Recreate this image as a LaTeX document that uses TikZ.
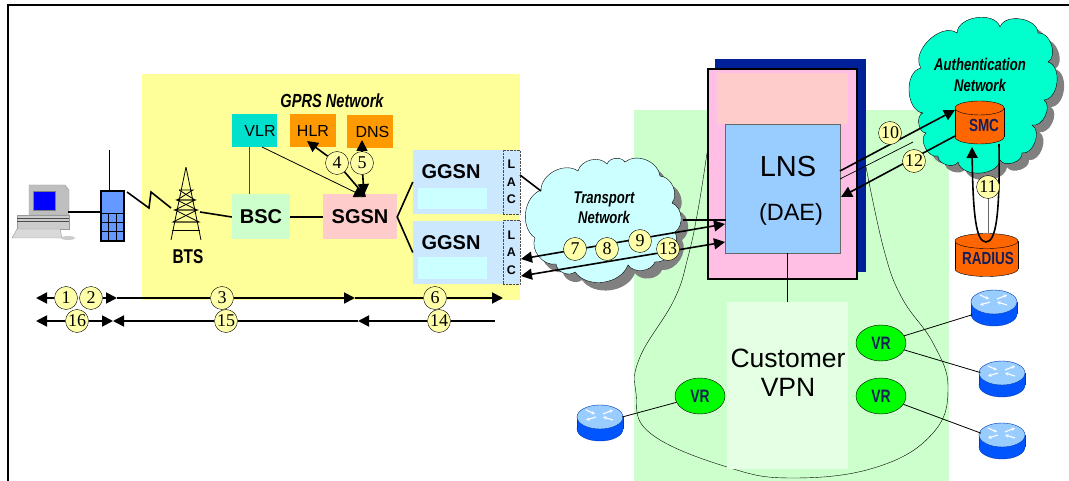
\documentclass[tikz,border=0pt]{standalone}
\usepackage{fontspec}
\usepackage{xcolor}
\usetikzlibrary{shapes.geometric}
\usetikzlibrary{arrows.meta}
\setmainfont{Liberation Sans}
\newfontfamily\numfont{Liberation Serif}
\newfontfamily\narrowfont[FakeStretch=0.77]{Liberation Sans}
\definecolor{gprsyellow}{RGB}{255,255,153}
\definecolor{vpngreen}{RGB}{204,255,204}
\definecolor{vpnlight}{RGB}{229,255,229}
\definecolor{ggsnblue}{RGB}{204,232,255}
\definecolor{skycyan}{RGB}{204,255,255}
\definecolor{vlrteal}{RGB}{0,224,204}
\definecolor{hlrorange}{RGB}{255,153,0}
\definecolor{sgsnpink}{RGB}{255,204,204}
\definecolor{lnsblue}{RGB}{153,204,255}
\definecolor{lnspink}{RGB}{255,190,228}
\definecolor{navyback}{RGB}{0,32,153}
\definecolor{authgreen}{RGB}{0,255,204}
\definecolor{dbred}{RGB}{255,102,0}
\definecolor{labnavy}{RGB}{20,30,90}
\definecolor{phoneblue}{RGB}{102,153,255}
\definecolor{routerbody}{RGB}{0,85,255}
\definecolor{circyellow}{RGB}{255,255,170}
\newcommand{\drum}[9]{
  \draw[#8,fill=#9] (#1,#4) ellipse (#3 and #5);
  \fill[#9] (#1-#3,#2) rectangle (#1+#3,#4);
  \draw[#8] (#1-#3,#2) -- (#1-#3,#4);
  \draw[#8] (#1+#3,#2) -- (#1+#3,#4);
  \draw[#8,fill=#7] (#1,#2) ellipse (#3 and #5);
}
\newcommand{\router}[2]{
  \drum{#1}{#2-6}{23}{#2+6}{12}{}{lnsblue}{routerbody!70!black}{routerbody}
  \draw[rarrow] (#1-14,#2-13) -- (#1-5,#2-9);
  \draw[rarrow] (#1+3,#2-9) -- (#1+13,#2-13);
  \draw[rarrow] (#1-4,#2-6) -- (#1-14,#2-3);
  \draw[rarrow] (#1+13,#2-3) -- (#1+3,#2-6);
}
\newcommand{\transportcloud}{
  (541,190) to (578,171) to (607,164) to (625,162) to (660,176) to (672,203)
  to (675,232) to (655,262) to (628,265) to (575,272) to (556,264) to (535,238)
  to (541,190) -- cycle
}
\newcommand{\authcloud}{
  (921,68) to (957,33) to (1000,27) to (1038,33) to (1048,62)
  to (1044,100) to (1032,125) to (1022,153) to (1000,160) to (958,162) to (938,156)
  to (926,133) to (923,113) to (921,68) -- cycle
}
\begin{document}
\begin{tikzpicture}[
 x=1pt, y=-1pt,
 >={Triangle[length=11pt,width=11pt]},
 box/.style = {
    rectangle,
    inner sep=0pt,
    font=\fontsize{16}{16}\selectfont},
 bigbox/.style = {
    box,
    font=\fontsize{20}{20}\selectfont\bfseries},
 lac/.style = {
    rectangle,
    draw=black!70,
    densely dotted,
    fill=ggsnblue,
    minimum width=17pt,
    minimum height=64pt,
    inner sep=0pt,
    align=center,
    font=\fontsize{12.5}{17.5}\selectfont\bfseries},
 num/.style = {
    circle,
    draw=black,
    fill=circyellow,
    minimum size=23pt,
    inner sep=0pt,
    font=\fontsize{18}{18}\numfont},
 netlabel/.style = {
    align=center,
    font=\fontsize{17}{20.5}\narrowfont\bfseries\itshape},
 vr/.style = {
    ellipse,
    draw=black,
    fill=green,
    minimum width=50pt,
    minimum height=36pt,
    inner sep=0pt,
    text=labnavy,
    font=\fontsize{18}{18}\narrowfont\bfseries},
 dblabel/.style = {
    inner sep=0pt,
    text=labnavy,
    font=\fontsize{17.5}{17.5}\narrowfont\bfseries},
 routernode/.style = {
    ellipse,
    minimum width=46pt,
    minimum height=36pt,
    inner sep=0pt},
 puff/.style = {every to/.style={bend left=62}},
 bigpuff/.style = {every to/.style={bend left=80}},
 thickline/.style = {line width=1.6pt},
 rowline/.style = {line width=1.8pt},
 rarrow/.style = {white,line width=1.1pt,-{Stealth[length=3.5pt,width=3.5pt]}}
  ]
\useasboundingbox (0,0) rectangle (1069,481);
\draw[line width=2pt] (8,481) -- (8,5) -- (1069,5);

\node(gprs)[box,fill=gprsyellow,minimum width=378pt,minimum height=226pt] at (331,187){};
\node(vpn)[box,fill=vpngreen,minimum width=315pt,minimum height=371pt] at (791.5,295.5){};
\draw[thin] plot[smooth,tension=0.7] coordinates {(707,153) (698,210) (688,257) (674,300) (640,357) (636,393) (650,433) (727,467) (793,478) (877,467) (933,433) (948,387) (933,343) (902,298) (884,250) (866,167)};

\node(back)[box,fill=navyback,minimum width=151pt,minimum height=213pt] at (790.5,165.5){};
\node(frame)[box,draw=black,line width=1.6pt,fill=lnspink,minimum width=149pt,minimum height=210pt] at (782.5,174){};
\node(upper)[box,fill=sgsnpink,minimum width=131pt,minimum height=51pt] at (782.5,98.5){};
\node(lns)[box,draw=black!60,fill=lnsblue,minimum width=115pt,minimum height=129pt] at (782.5,188.5){};
\node(lnstext)[font=\fontsize{29}{29}\selectfont] at (788,167){LNS};
\node(daetext)[font=\fontsize{23.5}{23.5}\selectfont] at (791,214){(DAE)};
\draw[black!60,densely dotted] (lns.west |- 0,183) -- (lns.west |- 0,245);

\node(cvpn)[box,fill=vpnlight,minimum width=121pt,minimum height=167pt] at (787.5,385.5){};
\node(cvpntext)[align=center,font=\fontsize{26.5}{29}\selectfont] at (788,373){Customer\\VPN};
\draw[thickline] (lns.south -| cvpn.north) -- (cvpn.north);

\node(vlr)[box,fill=vlrteal,minimum width=45pt,minimum height=33pt] at (254.5,130.5){\hspace*{11pt}VLR};
\node(hlr)[box,fill=hlrorange,minimum width=46pt,minimum height=33pt] at (313,130.5){HLR};
\node(dns)[box,fill=hlrorange,minimum width=46pt,minimum height=33pt] at (370,131.5){\hspace*{5pt}DNS};
\node(bsc)[bigbox,fill=vpngreen,minimum width=58pt,minimum height=45pt] at (261,217){BSC};
\node(sgsn)[bigbox,fill=sgsnpink,minimum width=74pt,minimum height=45pt] at (360,217){SGSN};
\node(ggsna)[bigbox,fill=ggsnblue,minimum width=90pt,minimum height=64pt] at (458,182){};
\node(ggsnb)[bigbox,fill=ggsnblue,minimum width=90pt,minimum height=63pt] at (458,252.5){};
\node(corea)[box,fill=skycyan,minimum width=69pt,minimum height=21pt] at (452.5,198.5){};
\node(coreb)[box,fill=skycyan,minimum width=69pt,minimum height=22pt] at (452.5,268){};
\node(ggsnatext)[font=\fontsize{20}{20}\selectfont\bfseries] at (451,172){GGSN};
\node(ggsnbtext)[font=\fontsize{20}{20}\selectfont\bfseries] at (451,243){GGSN};
\node(laca)[lac] at (511.5,182){L\\A\\C};
\node(lacb)[lac] at (511.5,252.5){L\\A\\C};
\node(gprstext)[netlabel,font=\fontsize{19}{19}\narrowfont\bfseries\itshape] at (332,101){GPRS Network};

\draw[thickline] (bsc) -- (sgsn);
\draw[line width=1pt,black!60!olive] (vlr.south -| 249,0) -- (bsc.north -| 249,0);
\draw[thickline] (ggsna.west) -- (sgsn.east) -- (ggsnb.west);

\node(phone)[rectangle,draw=black,line width=1.1pt,fill=phoneblue,minimum width=23pt,minimum height=50pt,inner sep=0pt] at (112.5,216){};
\draw (phone.north -| 109,0) -- (109,150);
\draw (phone.west |- 0,213) -- (phone.east |- 0,213);
\draw (phone.west |- 0,222) -- (phone.east |- 0,222);
\draw (phone.west |- 0,231) -- (phone.east |- 0,231);
\draw (108.5,213) -- (108.5,241);
\draw (116.5,213) -- (116.5,241);

\fill[black!25,draw=black!40] (29,185) -- (65,185) -- (69,190) -- (69,215) -- (29,215) -- cycle;
\fill[blue] (33,191) rectangle (55,210);
\draw[black!50] (33,191) rectangle (55,210);
\fill[black!20,draw=black!40] (17,215) rectangle (69,229);
\draw[black!70] (17,218) -- (69,218);
\draw[black!70] (17,221) -- (69,221);
\fill[black!15,draw=black!40] (17,229) -- (60,229) -- (62,238) -- (12,238) -- cycle;
\fill[black!20] (68,238) ellipse (7pt and 2pt);
\node(pc)[inner sep=0pt,minimum size=0pt] at (68,212){};
\draw[thickline] (pc) -- (pc -| phone.west);

\node(btstop)[inner sep=0pt,minimum size=0pt] at (186,167){};
\node(btsleft)[inner sep=0pt,minimum size=0pt] at (171,240){};
\node(btsright)[inner sep=0pt,minimum size=0pt] at (201,240){};
\draw[line width=0.8pt] (btsleft) -- (btstop) -- (btsright);
\draw[line width=0.8pt] (179,190) -- (193,190) -- (177,200) -- (195,200) -- (175,210) -- (197,210) -- (173,222) -- (199,222);
\draw[line width=0.8pt] (179,190) -- (195,200) -- (177,200) -- (197,210) -- (175,210) -- (199,222) -- (173,222);
\draw[line width=0.8pt] (172,230) -- (200,230);
\node(btstext)[font=\fontsize{20}{20}\narrowfont\bfseries] at (188,257){BTS};
\draw[thickline] (200,212) -- (bsc.west);
\draw[line width=1.6pt] (127,192) -- (149,208) -- (151,192) -- (171,208);

\fill[puff,black!50,shift={(7,8)}] \transportcloud;
\draw[puff,fill=skycyan] \transportcloud;
\fill[bigpuff,black!50,shift={(7,7)}] \authcloud;
\draw[bigpuff,fill=authgreen] \authcloud;
\node(transporttext)[netlabel] at (604,207.5){Transport\\Network};
\node(authtext)[netlabel] at (980,75){Authentication\\Network};
\draw[thickline] (520,175) -- (541,191);
\draw[thickline] (683,220) -- (726,220);

\coordinate(lacup) at (521,259);
\coordinate(lacdown) at (521,276);
\coordinate(lnsup) at (725,224);
\coordinate(lnsdown) at (725,242);
\draw[<->,thickline] (lacup) -- (lnsup);
\draw[<->,thickline] (lacdown) -- (lnsdown);

\drum{979.5}{108}{24.5}{137}{7}{}{dbred}{black}{dbred}
\drum{986.5}{241}{31.5}{269}{7.5}{}{dbred}{black}{dbred}
\node(smc)[dblabel] at (984,125){SMC};
\node(radius)[dblabel] at (988,258){RADIUS};

\coordinate(lnsa) at (840,171);
\coordinate(lnsb) at (840,179);
\coordinate(lnsc) at (841,197);
\coordinate(smca) at (955,110);
\coordinate(smcb) at (955,136);
\draw[->,thickline] (lnsa) -- (smca);
\draw[line width=0.7pt] (lnsb) -- (913,142);
\draw[->,thickline] (smcb) -- (lnsc);
\draw[black!60] (988,197) -- (988,233);
\draw[->,thickline] (999,144) .. controls (1000,215) and (996,242) .. (986,242) .. controls (976,242) and (973,215) .. (972,147);

\node(c1)[num] at (66,298){1};
\node(c2)[num] at (91,298){2};
\node(c3)[num] at (222,298){3};
\node(c6)[num] at (435,298){6};
\node(c16)[num] at (77,321){16};
\node(c15)[num] at (226,321){15};
\node(c14)[num] at (439,321){14};
\node(c4)[num] at (337,163){4};
\node(c5)[num] at (362,163){5};
\node(c7)[num] at (575,249){7};
\node(c8)[num] at (607,249){8};
\node(c9)[num] at (640,241){9};
\node(c13)[num] at (668,249){13};
\node(c10)[num] at (890,133){10};
\node(c12)[num] at (914,161){12};
\node(c11)[num] at (988,187){11};

\coordinate(rowa) at (36,298);
\coordinate(rowb) at (117,298);
\coordinate(rowc) at (355,298);
\coordinate(rowd) at (503,298);
\draw[->,rowline] (c1) -- (rowa);
\draw[->,rowline] (c2) -- (rowb);
\draw[rowline] (rowb) -- (c3);
\draw[->,rowline] (c3) -- (rowc);
\draw[rowline] (rowc) -- (c6);
\draw[->,rowline] (c6) -- (rowd);
\coordinate(rowe) at (36,321);
\coordinate(rowf) at (113,321);
\coordinate(rowh) at (358,321);
\coordinate(rowi) at (495,321);
\draw[->,rowline] (c16) -- (rowe);
\draw[->,rowline] (c16) -- (rowf);
\draw[->,rowline] (c15) -- (rowf);
\draw[rowline] (c15) -- (rowh);
\draw[->,rowline] (c14) -- (rowh);
\draw[rowline] (c14) -- (rowi);

\coordinate(hlrtip) at (307,141);
\coordinate(dnstip) at (362,140);
\coordinate(sgsna) at (366,197);
\coordinate(sgsnb) at (364,195);
\draw[->,thickline] (c4) -- (hlrtip);
\draw[->,thickline] (c4) -- (sgsna);
\draw[->,thickline] (c5) -- (dnstip);
\draw[->,thickline] (c5) -- (sgsnb);
\draw[->,line width=0.8pt] (262,147) -- (365,197);

\router{600}{423}
\router{994}{308}
\router{1002}{379}
\router{1002}{441}
\node(routera)[routernode] at (600,423){};
\node(routerb)[routernode] at (994,308){};
\node(routerc)[routernode] at (1002,379){};
\node(routerd)[routernode] at (1002,441){};

\node(vra)[vr] at (700,396){VR};
\node(vrb)[vr] at (881,343){VR};
\node(vrc)[vr] at (881,396){VR};
\draw[line width=0.8pt] (vra) -- (routera);
\draw[line width=0.8pt] (vrb) -- (routerb);
\draw[line width=0.8pt] (vrb) -- (routerc);
\draw[line width=0.8pt] (vrc) -- (routerd);
\end{tikzpicture}
\end{document}
